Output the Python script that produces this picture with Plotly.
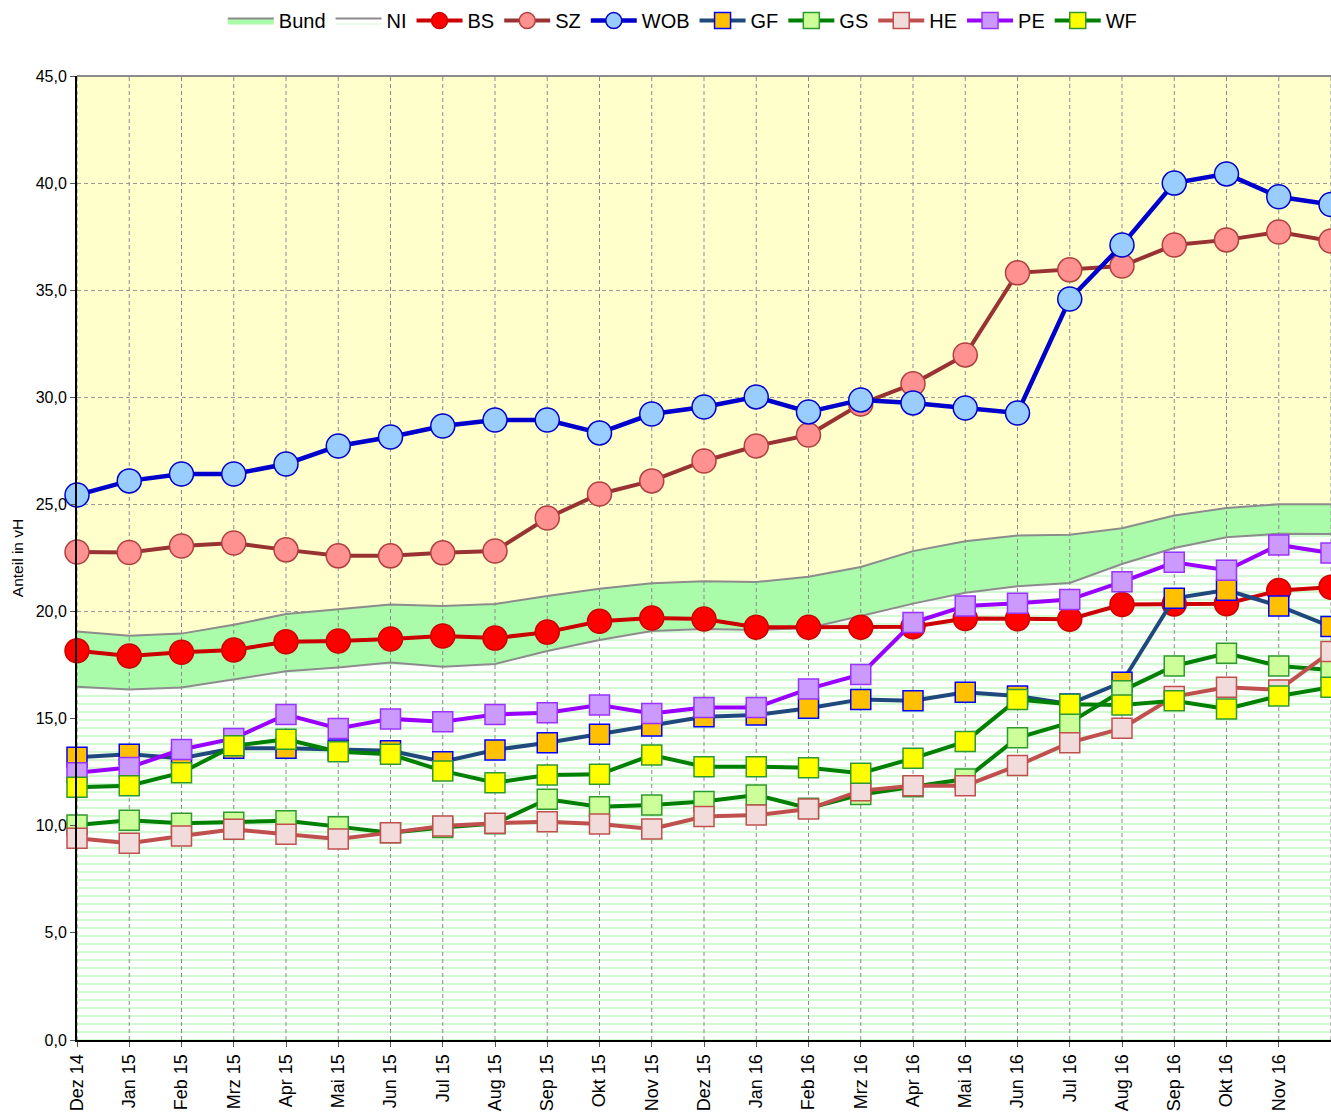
import plotly.graph_objects as go

# Monthly categories (Dez 14 .. Dez 16)
months = ["Dez 14", "Jan 15", "Feb 15", "Mrz 15", "Apr 15", "Mai 15", "Jun 15",
          "Jul 15", "Aug 15", "Sep 15", "Okt 15", "Nov 15", "Dez 15", "Jan 16",
          "Feb 16", "Mrz 16", "Apr 16", "Mai 16", "Jun 16", "Jul 16", "Aug 16",
          "Sep 16", "Okt 16", "Nov 16", "Dez 16"]

# Shares in vH
bund = [19.07, 18.87, 18.97, 19.38, 19.89, 20.12, 20.33, 20.26, 20.35, 20.73,
        21.06, 21.32, 21.41, 21.38, 21.62, 22.08, 22.82, 23.28, 23.55, 23.59,
        23.89, 24.48, 24.83, 25.01, 25.01]
ni = [16.49, 16.36, 16.46, 16.84, 17.21, 17.39, 17.62, 17.42, 17.55, 18.16,
      18.67, 19.09, 19.19, 19.14, 19.23, 19.79, 20.37, 20.88, 21.18, 21.33,
      22.22, 22.97, 23.47, 23.63, 23.62]
bs = [18.17, 17.93, 18.10, 18.21, 18.59, 18.63, 18.72, 18.86, 18.76, 19.04,
      19.55, 19.70, 19.65, 19.27, 19.27, 19.27, 19.29, 19.68, 19.66, 19.64,
      20.33, 20.35, 20.37, 20.98, 21.14]
sz = [22.78, 22.76, 23.06, 23.20, 22.88, 22.60, 22.60, 22.74, 22.83, 24.37,
      25.49, 26.10, 27.03, 27.73, 28.24, 29.69, 30.63, 31.98, 35.81, 35.95,
      36.13, 37.11, 37.35, 37.72, 37.30]
wob = [25.44, 26.10, 26.42, 26.42, 26.89, 27.73, 28.15, 28.66, 28.94, 28.94,
       28.34, 29.22, 29.55, 30.02, 29.32, 29.88, 29.74, 29.50, 29.27, 34.59,
       37.11, 40.00, 40.43, 39.36, 39.00]
gf = [13.20, 13.34, 13.15, 13.62, 13.62, 13.54, 13.50, 12.99, 13.54, 13.88,
      14.27, 14.66, 15.09, 15.17, 15.49, 15.90, 15.84, 16.23, 16.06, 15.69,
      16.70, 20.62, 21.00, 20.26, 19.30]
gs = [10.04, 10.26, 10.12, 10.16, 10.24, 9.96, 9.68, 9.92, 10.10, 11.24,
      10.89, 10.97, 11.13, 11.44, 10.82, 11.46, 11.82, 12.18, 14.11, 14.81,
      16.30, 17.46, 18.05, 17.46, 17.27]
he = [9.42, 9.18, 9.52, 9.84, 9.60, 9.38, 9.68, 9.99, 10.12, 10.19,
      10.08, 9.85, 10.43, 10.50, 10.78, 11.64, 11.87, 11.87, 12.81, 13.88,
      14.55, 16.03, 16.47, 16.34, 18.13]
pe = [12.48, 12.72, 13.56, 14.08, 15.19, 14.54, 14.99, 14.86, 15.19, 15.28,
      15.64, 15.24, 15.52, 15.52, 16.39, 17.06, 19.49, 20.26, 20.39, 20.56,
      21.39, 22.30, 21.93, 23.11, 22.73]
wf = [11.80, 11.87, 12.48, 13.73, 14.04, 13.46, 13.34, 12.56, 12.01, 12.37,
      12.40, 13.30, 12.76, 12.76, 12.71, 12.45, 13.15, 13.93, 15.90, 15.67,
      15.64, 15.84, 15.45, 16.06, 16.47]

y_ticks = [0, 5, 10, 15, 20, 25, 30, 35, 40, 45]

FONT = "Liberation Sans, Arial, sans-serif"
x = list(range(len(months)))

fig = go.Figure()

# Lower area: NI, hatched green on white
fig.add_trace(go.Scatter(
    x=x, y=ni, name="NI", mode="lines", fill="tozeroy",
    line=dict(color="#8c8c8c", width=2),
    fillpattern=dict(shape="-", fgcolor="#aaf2aa", bgcolor="#ffffff",
                     size=8, solidity=0.28),
    legendrank=2, hoverinfo="skip"))

# Band between NI and Bund
fig.add_trace(go.Scatter(
    x=x, y=bund, name="Bund", mode="lines", fill="tonexty",
    fillcolor="#aafcaa", line=dict(color="#8c8c8c", width=2),
    legendrank=1, hoverinfo="skip"))

# Vertical dashed grid lines drawn over the filled areas
gx, gy = [], []
for i in x:
    gx += [i, i, None]
    gy += [y_ticks[0], y_ticks[-1], None]
fig.add_trace(go.Scatter(
    x=gx, y=gy, mode="lines", showlegend=False, hoverinfo="skip",
    line=dict(color="#8a8a8a", width=1, dash="4px,3px")))

series = [
    ("BS", bs, "#cc0000", "#ff0000", "#cc0000", "circle", 24, 4),
    ("SZ", sz, "#993333", "#ff9191", "#b04040", "circle", 24, 4),
    ("WOB", wob, "#0000cc", "#99ccff", "#0000cc", "circle", 24, 4.5),
    ("GF", gf, "#1f497d", "#ffc000", "#0000ff", "square", 20, 4),
    ("GS", gs, "#008000", "#ccff99", "#2e9a2e", "square", 20, 4),
    ("HE", he, "#c0504d", "#f2dcdb", "#c0504d", "square", 20, 4),
    ("PE", pe, "#9900ff", "#cc99ff", "#9933ff", "square", 20, 4),
    ("WF", wf, "#008000", "#ffff00", "#2e9a2e", "square", 20, 4),
]
for rank, (name, vals, lc, mfill, mline, sym, msize, lw) in enumerate(series, start=3):
    fig.add_trace(go.Scatter(
        x=x, y=vals, name=name, mode="lines+markers", cliponaxis=False,
        line=dict(color=lc, width=lw),
        marker=dict(symbol=sym, size=msize, color=mfill,
                    line=dict(color=mline, width=1.5)),
        legendrank=rank))

fig.update_layout(
    width=1331, height=1113,
    margin=dict(l=77, r=0, t=76, b=73),
    paper_bgcolor="#ffffff", plot_bgcolor="#ffffcc",
    separators=",.",
    font=dict(family=FONT, color="#000000"),
    showlegend=True,
    legend=dict(orientation="h", xref="container", yref="container",
                x=0.513, xanchor="center", y=0.999, yanchor="top",
                traceorder="normal",
                font=dict(size=20, family=FONT), itemwidth=46,
                tracegroupgap=0, bgcolor="rgba(0,0,0,0)"),
    xaxis=dict(
        range=[0, len(months) - 1], tickmode="array", tickvals=x,
        ticktext=months, tickangle=-90, tickfont=dict(size=18, family=FONT),
        ticks="outside", ticklen=5, tickcolor="#555555",
        showgrid=False, zeroline=False,
        showline=True, linecolor="#000000", linewidth=2),
    yaxis=dict(
        range=[y_ticks[0], y_ticks[-1]], tickvals=y_ticks, tickformat=".1f",
        tickfont=dict(size=16, family=FONT), ticks="outside", ticklen=5,
        tickcolor="#555555",
        title=dict(text="Anteil in vH", font=dict(size=15.5, family=FONT),
                   standoff=8),
        showgrid=True, gridcolor="#9a9a9a", griddash="4px,3px", gridwidth=1,
        zeroline=False, showline=True, linecolor="#000000", linewidth=2),
    shapes=[dict(type="line", xref="paper", yref="paper", x0=0, x1=1,
                 y0=1, y1=1, line=dict(color="#8c8c8c", width=2),
                 layer="above")],
)

fig.write_html("out.html")
